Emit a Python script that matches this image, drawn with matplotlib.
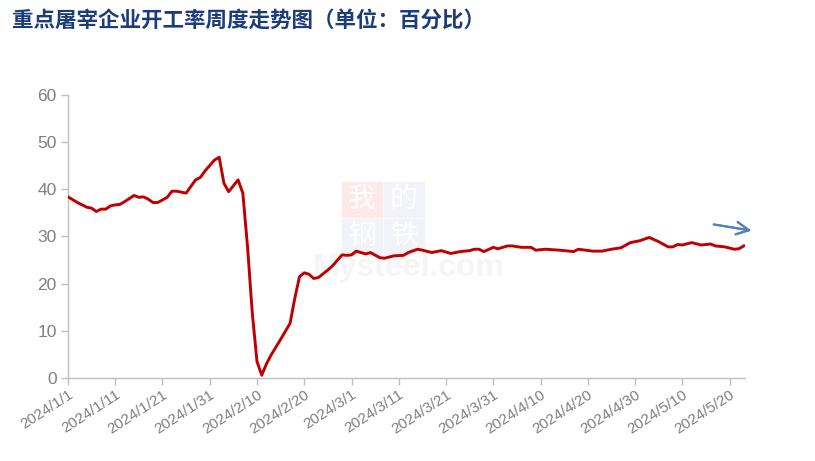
import numpy as np
import matplotlib.pyplot as plt
import matplotlib.dates as mdates
from matplotlib.patches import Rectangle

plt.rcParams['font.family'] = ['Liberation Sans', 'DejaVu Sans']

# ── 資料 ─────────────────────────────────────────────────────────────────────
START = np.datetime64('2024-01-01')
day_offsets = [0, 2, 4, 5, 6, 7, 8, 9, 10, 11, 12, 14, 15, 16, 17, 18, 19, 21, 22, 23,
               25, 27, 28, 29, 31, 32, 33, 34, 36, 37, 38, 39, 40, 41, 42, 43, 45, 47,
               48, 49, 50, 51, 52, 53, 55, 56, 58, 59, 60, 61, 62, 63, 64, 66, 67, 69,
               71, 72, 74, 75, 77, 79, 81, 83, 85, 86, 87, 88, 90, 91, 93, 94, 96, 98,
               99, 101, 104, 107, 108, 111, 113, 115, 117, 119, 121, 123, 125, 127, 128,
               129, 130, 132, 134, 136, 137, 139, 141, 142, 143]
rate = [38.4, 37.2, 36.2, 36.0, 35.3, 35.8, 35.8, 36.5, 36.7, 36.8, 37.4, 38.7, 38.3, 38.4,
        37.9, 37.2, 37.2, 38.3, 39.6, 39.6, 39.2, 42.0, 42.5, 43.9, 46.2, 46.8, 41.3, 39.5,
        42.0, 39.2, 27.8, 13.8, 3.5, 0.6, 3.0, 4.9, 8.2, 11.6, 16.9, 21.5, 22.3, 22.0, 21.1,
        21.3, 22.9, 23.8, 26.1, 26.0, 26.1, 26.9, 26.6, 26.3, 26.6, 25.5, 25.4, 25.9, 26.0,
        26.6, 27.3, 27.1, 26.6, 27.0, 26.4, 26.8, 27.0, 27.3, 27.3, 26.8, 27.7, 27.4, 28.0,
        28.0, 27.7, 27.7, 27.1, 27.3, 27.1, 26.8, 27.3, 26.9, 26.9, 27.3, 27.6, 28.7, 29.1,
        29.8, 28.9, 27.8, 27.8, 28.3, 28.2, 28.7, 28.2, 28.4, 28.0, 27.8, 27.3, 27.4, 28.0]
dates = START + np.array(day_offsets).astype('timedelta64[D]')

title = '重点屠宰企业开工率周度走势图（单位：百分比）'
y_ticks = [0, 10, 20, 30, 40, 50, 60]
tick_dates = START + np.arange(0, 141, 10).astype('timedelta64[D]')

W, H = 815, 461


def fx(px):
    return px / W


def fy(py):
    return 1 - py / H


# ── 繪圖 ─────────────────────────────────────────────────────────────────────
fig = plt.figure(figsize=(8.15, 4.61), dpi=100)
ax = fig.add_axes([0.0834, 0.180, 0.8306, 0.614])

# 浮水印（畫在線條下方）
for (x0, y0, c) in [(342, 182, '#fde9e9'), (384, 182, '#f1f3f8'),
                    (342, 219, '#f1f3f8'), (384, 219, '#f1f3f8')]:
    ax.add_patch(Rectangle((fx(x0), fy(y0 + 35)), 40 / W, 35 / H,
                           transform=fig.transFigure, color=c, zorder=0, clip_on=False))
for (ch, xc, yc) in [('我', 362, 199), ('的', 404, 199), ('钢', 362, 236), ('铁', 404, 236)]:
    ax.text(fx(xc), fy(yc), ch, transform=fig.transFigure, family='Noto Sans CJK SC',
            fontsize=20, color='white', ha='center', va='center', zorder=0.5)
ax.text(fx(313), fy(268), 'Mysteel.com', transform=fig.transFigure, fontsize=23,
        fontweight='bold', color='#f5f5f5', ha='left', va='center', zorder=0.4)

ax.plot(dates, rate, color='#c00000', lw=2.1, solid_joinstyle='round', zorder=3)

ax.set_ylim(0, 60)
ax.set_yticks(y_ticks)
ax.set_xlim(START, START + np.timedelta64(143, 'D') + np.timedelta64(6, 'h'))
ax.set_xticks(tick_dates)
ax.xaxis.set_major_formatter(mdates.DateFormatter('%Y/%-m/%-d'))

for s in ['top', 'right']:
    ax.spines[s].set_visible(False)
for s in ['left', 'bottom']:
    ax.spines[s].set_color('#bfbfbf')
    ax.spines[s].set_linewidth(1.0)
ax.tick_params(axis='both', colors='#bfbfbf', length=5, width=1.0)
ax.tick_params(axis='y', labelcolor='#7f7f7f', labelsize=12.5, pad=3)
ax.tick_params(axis='x', labelcolor='#7f7f7f', labelsize=11, pad=2)
for lbl in ax.get_xticklabels():
    lbl.set_rotation(33)
    lbl.set_ha('right')
    lbl.set_rotation_mode('anchor')

fig.text(fx(12), fy(20), title, family=['Noto Sans CJK SC', 'DejaVu Sans'],
         fontsize=15.5, fontweight='bold', color='#1c3d7a', ha='left', va='center')

# 趨勢箭頭
fig.add_artist(plt.annotate('', xy=(fx(754), fy(231)), xytext=(fx(711), fy(224)),
                            xycoords='figure fraction', textcoords='figure fraction',
                            arrowprops=dict(arrowstyle='->,head_length=0.9,head_width=0.45',
                                            color='#4f81bd', lw=1.5)))

fig.savefig('out.png', dpi=100)
